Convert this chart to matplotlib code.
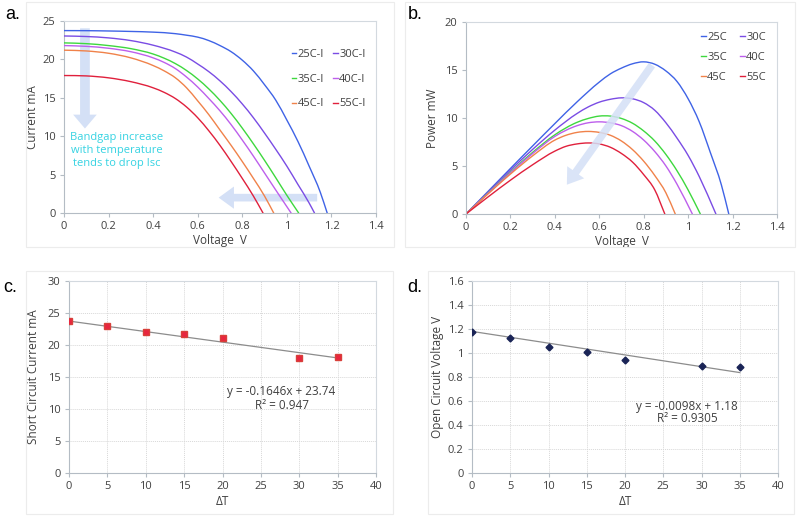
import matplotlib
matplotlib.use("Agg")
import numpy as np
import matplotlib.pyplot as plt
from matplotlib.patches import Rectangle, PathPatch
from matplotlib.path import Path
from matplotlib.lines import Line2D
from matplotlib.ticker import FuncFormatter, MultipleLocator

plt.rcParams['font.family'] = ['Open Sans', 'DejaVu Sans']

# ---------------- data ----------------
labels_iv = ['25C-I', '30C-I', '35C-I', '40C-I', '45C-I', '55C-I']
labels_p = ['25C', '30C', '35C', '40C', '45C', '55C']
colors = ['#3F63E6', '#7A4CE4', '#3ED83E', '#BD5FEC', '#F0824A', '#E0203C']

# panel a: I-V curves (voltage V, current mA)
v25 = [0, 0.1, 0.2, 0.3, 0.4, 0.5, 0.55, 0.6, 0.65, 0.7, 0.75, 0.8, 0.85, 0.9, 0.95, 1.0, 1.05, 1.1, 1.15, 1.181]
i25 = [23.75, 23.74, 23.7, 23.64, 23.55, 23.35, 23.15, 22.9, 22.45, 21.8, 21.0, 19.9, 18.5, 16.7, 14.7, 12.1, 9.3, 6.1, 2.7, 0]
v30 = [0, 0.1, 0.2, 0.3, 0.4, 0.5, 0.55, 0.6, 0.65, 0.7, 0.75, 0.8, 0.85, 0.9, 0.95, 1.0, 1.05, 1.1, 1.124]
i30 = [23.05, 22.98, 22.8, 22.45, 21.85, 20.95, 20.3, 19.4, 18.4, 17.2, 15.8, 14.2, 12.4, 10.4, 8.3, 6.1, 3.7, 1.3, 0]
v35 = [0, 0.1, 0.2, 0.3, 0.4, 0.45, 0.5, 0.55, 0.6, 0.65, 0.7, 0.75, 0.8, 0.85, 0.9, 0.95, 1.0, 1.053]
i35 = [22.15, 22.05, 21.8, 21.4, 20.7, 20.15, 19.45, 18.55, 17.45, 16.15, 14.65, 12.95, 11.05, 9.0, 6.85, 4.6, 2.3, 0]
v40 = [0, 0.1, 0.2, 0.3, 0.4, 0.45, 0.5, 0.55, 0.6, 0.65, 0.7, 0.75, 0.8, 0.85, 0.9, 0.95, 1.019]
i40 = [21.8, 21.7, 21.45, 21.0, 20.2, 19.6, 18.8, 17.7, 16.4, 14.9, 13.3, 11.5, 9.5, 7.4, 5.2, 3.0, 0]
v45 = [0, 0.1, 0.2, 0.3, 0.4, 0.45, 0.5, 0.55, 0.6, 0.65, 0.7, 0.75, 0.8, 0.85, 0.9, 0.941]
i45 = [21.2, 21.1, 20.8, 20.2, 19.2, 18.5, 17.6, 16.3, 14.6, 12.8, 10.8, 8.8, 6.7, 4.5, 2.2, 0]
v55 = [0, 0.1, 0.2, 0.3, 0.4, 0.45, 0.5, 0.55, 0.6, 0.65, 0.7, 0.75, 0.8, 0.85, 0.893]
i55 = [17.9, 17.85, 17.6, 17.1, 16.3, 15.7, 14.9, 13.8, 12.4, 10.7, 8.8, 6.7, 4.5, 2.2, 0]

# panel b: P-V curves (voltage V, power mW)
pv25 = [0, 0.1, 0.2, 0.3, 0.4, 0.5, 0.6, 0.65, 0.7, 0.75, 0.8, 0.85, 0.9, 0.95, 1.0, 1.05, 1.1, 1.15, 1.183]
p25 = [0, 2.37, 4.74, 7.09, 9.42, 11.68, 13.74, 14.6, 15.2, 15.65, 15.85, 15.6, 14.9, 13.8, 12.0, 9.6, 6.4, 3.0, 0]
pv30 = [0, 0.1, 0.2, 0.3, 0.4, 0.5, 0.55, 0.6, 0.65, 0.7, 0.75, 0.8, 0.85, 0.9, 0.95, 1.0, 1.05, 1.125]
p30 = [0, 2.3, 4.56, 6.73, 8.74, 10.47, 11.15, 11.65, 11.95, 12.1, 12.0, 11.6, 10.8, 9.5, 7.9, 6.1, 3.9, 0]
pv35 = [0, 0.1, 0.2, 0.3, 0.4, 0.5, 0.55, 0.6, 0.65, 0.7, 0.75, 0.8, 0.85, 0.9, 0.95, 1.0, 1.055]
p35 = [0, 2.2, 4.36, 6.42, 8.25, 9.55, 9.95, 10.2, 10.2, 9.95, 9.45, 8.65, 7.6, 6.2, 4.5, 2.5, 0]
pv40 = [0, 0.1, 0.2, 0.3, 0.4, 0.5, 0.55, 0.6, 0.65, 0.7, 0.75, 0.8, 0.85, 0.9, 0.95, 1.019]
p40 = [0, 2.17, 4.29, 6.3, 8.08, 9.2, 9.5, 9.6, 9.5, 9.2, 8.6, 7.7, 6.5, 5.0, 3.1, 0]
pv45 = [0, 0.1, 0.2, 0.3, 0.4, 0.45, 0.5, 0.55, 0.6, 0.65, 0.7, 0.75, 0.8, 0.85, 0.9, 0.942]
p45 = [0, 2.11, 4.16, 6.06, 7.7, 8.2, 8.5, 8.6, 8.5, 8.2, 7.6, 6.7, 5.5, 4.0, 2.2, 0]
pv55 = [0, 0.1, 0.2, 0.3, 0.4, 0.45, 0.5, 0.55, 0.6, 0.65, 0.7, 0.75, 0.8, 0.85, 0.895]
p55 = [0, 1.79, 3.52, 5.13, 6.55, 7.05, 7.3, 7.4, 7.3, 6.95, 6.3, 5.4, 4.1, 2.5, 0]

# panels c, d
delta_t = [0, 5, 10, 15, 20, 30, 35]
isc = [23.77, 23.04, 22.1, 21.74, 21.17, 17.9, 18.16]
voc = [1.179, 1.121, 1.049, 1.01, 0.941, 0.891, 0.880]
isc_slope, isc_icpt = -0.1646, 23.74
voc_slope, voc_icpt = -0.0098, 1.18
trend_x = [0, 35]

TXT = '#404040'
fmt = FuncFormatter(lambda v, p: f"{v:g}")


def style(ax, grid=False):
    for s in ['top', 'right']:
        ax.spines[s].set_color('#d3d9df')
    for s in ['left', 'bottom']:
        ax.spines[s].set_color('#b4bcc4')
    for s in ax.spines.values():
        s.set_linewidth(0.8)
    ax.tick_params(axis='both', direction='out', length=3, width=0.8,
                   color='#b4bcc4', labelsize=8, labelcolor=TXT, pad=3)
    ax.xaxis.set_major_formatter(fmt)
    ax.yaxis.set_major_formatter(fmt)
    if grid:
        ax.grid(True, color='#d8d8d8', linestyle=(0, (1, 1)), linewidth=0.7)
        ax.set_axisbelow(True)


def smooth_line(ax, xs, ys, color, lw=1.0, zorder=3):
    """Draw a smoothed (Excel-style) line through the read points (cubic Hermite)."""
    x = np.asarray(xs, float)
    y = np.asarray(ys, float)
    n = len(x)
    h = np.diff(x)
    s = np.diff(y) / h
    d = np.empty(n)
    d[0] = s[0]
    d[-1] = s[-1]
    for i in range(1, n - 1):
        d[i] = (h[i] * s[i - 1] + h[i - 1] * s[i]) / (h[i - 1] + h[i])
    verts = [(x[0], y[0])]
    codes = [Path.MOVETO]
    for i in range(n - 1):
        verts += [(x[i] + h[i] / 3, y[i] + d[i] * h[i] / 3),
                  (x[i + 1] - h[i] / 3, y[i + 1] - d[i + 1] * h[i] / 3),
                  (x[i + 1], y[i + 1])]
        codes += [Path.CURVE4] * 3
    ax.add_patch(PathPatch(Path(verts, codes), fill=False, ec=color, lw=lw,
                           zorder=zorder, joinstyle='round', capstyle='round'))


def row_order(items):
    # matplotlib fills legend columns first; reorder so rows read left-to-right
    return [items[0], items[2], items[4], items[1], items[3], items[5]]


fig = plt.figure(figsize=(7.98, 5.16), dpi=100)

# chart-area frames
for (x0, y0, x1, y1) in [(26, 2, 394, 247), (405, 2, 795, 247),
                         (26, 271, 393, 514), (428, 271, 794, 514)]:
    fig.add_artist(Rectangle((x0 / 798, 1 - y1 / 516), (x1 - x0) / 798, (y1 - y0) / 516,
                             transform=fig.transFigure, fill=False,
                             ec='#ececec', lw=0.8))

arrow_col = '#d4e0f6'

# ---------------- panel a ----------------
axa = fig.add_axes([64 / 798, 1 - 213 / 516, 312 / 798, 192 / 516])
style(axa)
axa.annotate('', xy=(0.094, 11.0), xytext=(0.094, 24.05),
             arrowprops=dict(arrowstyle='simple,head_length=10,head_width=17,tail_width=7',
                             mutation_scale=1, color=arrow_col, lw=0, shrinkA=0, shrinkB=0),
             zorder=1)
axa.annotate('', xy=(0.694, 2.0), xytext=(1.136, 2.0),
             arrowprops=dict(arrowstyle='simple,head_length=11,head_width=16,tail_width=5.5',
                             mutation_scale=1, color=arrow_col, lw=0, shrinkA=0, shrinkB=0),
             zorder=1)
iv_v = [v25, v30, v35, v40, v45, v55]
iv_i = [i25, i30, i35, i40, i45, i55]
for vv, ii, c in zip(iv_v, iv_i, colors):
    smooth_line(axa, vv, ii, c)
axa.set_xlim(0, 1.4)
axa.set_ylim(0, 25)
axa.xaxis.set_major_locator(MultipleLocator(0.2))
axa.yaxis.set_major_locator(MultipleLocator(5))
axa.set_xlabel('Voltage  V', fontsize=8.5, color=TXT, labelpad=1)
axa.set_ylabel('Current mA', fontsize=8.5, color=TXT, labelpad=3)
axa.text(0.235, 10.5, 'Bandgap increase\nwith temperature\ntends to drop Isc',
         ha='center', va='top', fontsize=8, color='#36d3e2', linespacing=1.2)
handles_a = [Line2D([], [], color=c, lw=1.0) for c in colors]
axa.legend(row_order(handles_a), row_order(labels_iv), loc='upper left',
           bbox_to_anchor=(0.712, 0.885), ncol=2, frameon=False,
           fontsize=8, handlelength=0.4, handletextpad=0.15, columnspacing=0.8,
           labelspacing=1.25, borderpad=0, labelcolor=TXT)
fig.text(5 / 798, 1 - 6 / 516, 'a.', fontsize=13, family='Liberation Sans', va='top')

# ---------------- panel b ----------------
axb = fig.add_axes([466 / 798, 1 - 214 / 516, 311 / 798, 192 / 516])
style(axb)
pv_v = [pv25, pv30, pv35, pv40, pv45, pv55]
pv_p = [p25, p30, p35, p40, p45, p55]
for vv, pp, c in zip(pv_v, pv_p, colors):
    smooth_line(axb, vv, pp, c, zorder=2)
axb.annotate('', xy=(0.454, 3.05), xytext=(0.837, 15.5),
             arrowprops=dict(arrowstyle='simple,head_length=11,head_width=15,tail_width=5.5',
                             mutation_scale=1, color=arrow_col, lw=0, alpha=0.85,
                             shrinkA=0, shrinkB=0),
             zorder=4)
axb.set_xlim(0, 1.4)
axb.set_ylim(0, 20)
axb.xaxis.set_major_locator(MultipleLocator(0.2))
axb.yaxis.set_major_locator(MultipleLocator(5))
axb.set_xlabel('Voltage  V', fontsize=8.5, color=TXT, labelpad=1)
axb.set_ylabel('Power mW', fontsize=8.5, color=TXT, labelpad=4)
handles_b = [Line2D([], [], color=c, lw=1.0) for c in colors]
axb.legend(row_order(handles_b), row_order(labels_p), loc='upper left',
           bbox_to_anchor=(0.738, 0.975), ncol=2, frameon=False,
           fontsize=8, handlelength=0.4, handletextpad=0.15, columnspacing=1.2,
           labelspacing=0.8, borderpad=0, labelcolor=TXT)
fig.text(408 / 798, 1 - 6 / 516, 'b.', fontsize=13, family='Liberation Sans', va='top')

# ---------------- panel c ----------------
axc = fig.add_axes([69 / 798, 1 - 473 / 516, 307 / 798, 192 / 516])
style(axc, grid=True)
axc.plot(trend_x, [isc_icpt + isc_slope * x for x in trend_x], color='#8c8c8c', lw=0.9, zorder=2)
axc.plot(delta_t, isc, linestyle='none', marker='s', markersize=5,
         color='#E8253F', markeredgecolor='#d8403a', zorder=3)
axc.set_xlim(0, 40)
axc.set_ylim(0, 30)
axc.xaxis.set_major_locator(MultipleLocator(5))
axc.yaxis.set_major_locator(MultipleLocator(5))
axc.set_xlabel('ΔT', fontsize=8.5, color=TXT, labelpad=2)
axc.set_ylabel('Short Circuit Current mA', fontsize=8.5, color=TXT, labelpad=6)
axc.text(27.7, 12.7, f'y = {isc_slope}x + {isc_icpt}', ha='center', va='center',
         fontsize=8.5, color=TXT)
axc.text(27.7, 10.6, 'R² = 0.947', ha='center', va='center', fontsize=8.5, color=TXT)
fig.text(3 / 798, 1 - 279 / 516, 'c.', fontsize=13, family='Liberation Sans', va='top')

# ---------------- panel d ----------------
axd = fig.add_axes([472 / 798, 1 - 473 / 516, 306 / 798, 192 / 516])
style(axd, grid=True)
axd.plot(trend_x, [voc_icpt + voc_slope * x for x in trend_x], color='#8c8c8c', lw=0.9, zorder=2)
axd.plot(delta_t, voc, linestyle='none', marker='D', markersize=3.5,
         color='#1A2456', zorder=3)
axd.set_xlim(0, 40)
axd.set_ylim(0, 1.6)
axd.xaxis.set_major_locator(MultipleLocator(5))
axd.yaxis.set_major_locator(MultipleLocator(0.2))
axd.set_xlabel('ΔT', fontsize=8.5, color=TXT, labelpad=2)
axd.set_ylabel('Open Circuit Voltage V', fontsize=8.5, color=TXT, labelpad=3)
axd.text(28.1, 0.558, f'y = {voc_slope}x + {voc_icpt}', ha='center', va='center',
         fontsize=8.5, color=TXT)
axd.text(28.1, 0.45, 'R² = 0.9305', ha='center', va='center', fontsize=8.5, color=TXT)
fig.text(407 / 798, 1 - 279 / 516, 'd.', fontsize=13, family='Liberation Sans', va='top')

fig.savefig('out.png', dpi=100)
